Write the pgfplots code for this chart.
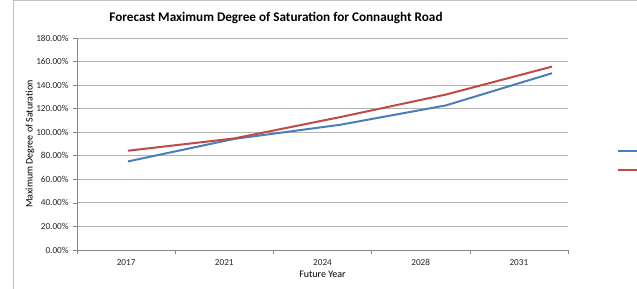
\documentclass[border=0pt]{standalone}
\usepackage{pgfplots}
\pgfplotsset{compat=1.18}
\usepackage{fontspec}
\setmainfont{Carlito}
\newfontfamily\cbold{Carlito Bold}
\definecolor{xlblue}{HTML}{4A7EBB}
\definecolor{xlred}{HTML}{BE4B48}
\definecolor{gridgray}{HTML}{B3B3B3}
\definecolor{axgray}{HTML}{868686}
\begin{document}
\begin{tikzpicture}[x=1pt,y=1pt]
\path[use as bounding box] (0,0) rectangle (637,289);
\fill[white] (0,0) rectangle (637,289);
\draw[gridgray!80, line width=1pt] (13,-5) -- (13,288) -- (700,288);
\node[font=\cbold\fontsize{13.2}{15}\selectfont] at (276,271.5) {Forecast Maximum Degree of Saturation for Connaught Road};
\begin{axis}[
  at={(77pt,39pt)}, anchor=south west,
  scale only axis, width=491pt, height=212pt,
  xmin=0, xmax=5, ymin=0, ymax=180,
  axis x line*=bottom, axis y line*=left,
  axis line style={axgray, line width=0.8pt},
  xtick={0,1,2,3,4,5},
  xticklabels={2017,2021,2024,2028,2031},
  x tick label as interval,
  ytick={0,20,...,180},
  yticklabels={0.00\%,20.00\%,40.00\%,60.00\%,80.00\%,100.00\%,120.00\%,140.00\%,160.00\%,180.00\%},
  tick align=outside, major tick length=4pt,
  tick style={axgray, line width=0.6pt},
  ymajorgrids, grid style={gridgray, line width=0.9pt},
  ticklabel style={font=\fontsize{9.2}{10}\selectfont, text=black!85},
  yticklabel style={xshift=-1pt},
  xticklabel style={yshift=-2pt},
  xlabel={Future Year}, ylabel={Maximum Degree of Saturation},
  label style={font=\cbold\fontsize{7.6}{9}\selectfont},
  every axis x label/.style={at={(axis description cs:0.5,-0.1146)}, anchor=center},
  every axis y label/.style={at={(axis description cs:-0.0957,0.5)}, rotate=90, anchor=center},
  legend style={at={(axis description cs:1.094,0.49)}, anchor=north west, draw=none, fill=none, row sep=13pt, font=\fontsize{8}{9}\selectfont},
  legend image code/.code={\draw[#1] (0pt,0pt) -- (24pt,0pt);},
  clip=false,
]
\addplot[xlblue, line width=2pt] coordinates {(0.519,75.2) (1.599,94.3) (2.678,106.3) (3.758,122.8) (4.837,150.1)};
\addlegendentry{}
\addplot[xlred, line width=2pt] coordinates {(0.519,84.3) (1.599,94.7) (2.678,112.8) (3.758,132.0) (4.837,155.7)};
\addlegendentry{}
\end{axis}
\end{tikzpicture}
\end{document}
